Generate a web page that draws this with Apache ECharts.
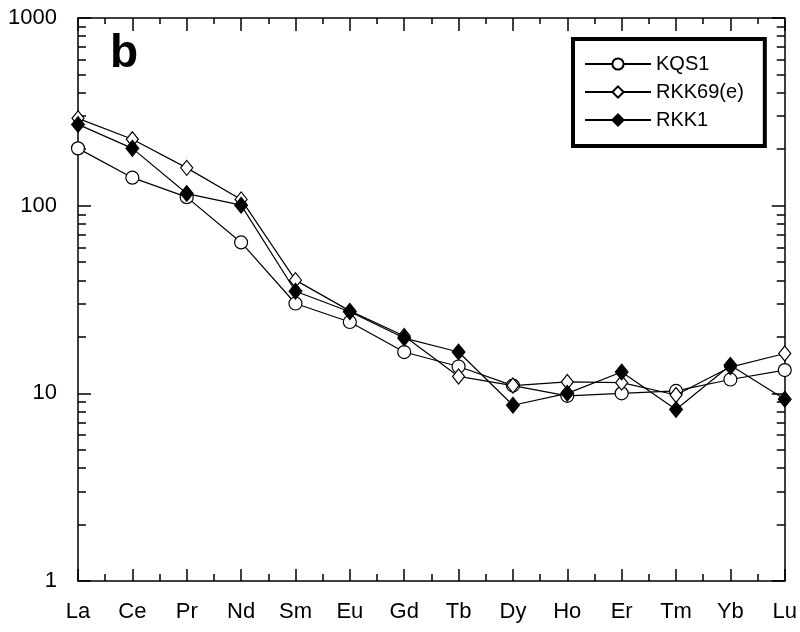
<!DOCTYPE html>
<html>
<head>
<meta charset="utf-8">
<script src="https://cdn.jsdelivr.net/npm/echarts@6/dist/echarts.min.js"></script>
<style>html,body{margin:0;padding:0;background:#fff}#c{width:800px;height:632px}</style>
</head>
<body>
<div id="c"></div>
<script>
var categories = ['La','Ce','Pr','Nd','Sm','Eu','Gd','Tb','Dy','Ho','Er','Tm','Yb','Lu'];
var KQS1 =     [202, 141, 111, 63.7, 30.1, 24.0, 16.6, 13.9, 11.0, 9.7, 10.0, 10.3, 11.85, 13.3];
var RKK69e =   [292, 226, 159, 108, 40.1, 27.5, 20.2, 12.3, 11.0, 11.5, 11.4, 9.8, 13.8, 16.3];
var RKK1 =     [271, 202, 116, 100.6, 35, 27.2, 19.7, 16.6, 8.64, 10.0, 13.0, 8.2, 14.1, 9.3];
var yMajorTicks = [1, 10, 100, 1000];
var yMinorTicks = [2,3,4,5,6,7,8,9,20,30,40,50,60,70,80,90,200,300,400,500,600,700,800,900];

var FONT = 'Liberation Sans';
function pts(arr){ return categories.map(function(c,i){ return [i, arr[i]]; }); }
var axisLine = {show:true, lineStyle:{color:'#000', width:1.5}};
var chart = echarts.init(document.getElementById('c'), null, {renderer:'canvas'});
var yBase = {type:'log', logBase:10, min:1, max:1000, splitLine:{show:false}};
chart.setOption({
  animation:false,
  backgroundColor:'#fff',
  title:{text:'b', left:105, top:26, textStyle:{fontFamily:FONT, fontWeight:'bold', fontSize:46, color:'#000'}},
  grid:{left:78, right:15, top:18, bottom:51},
  legend:{
    data:['KQS1','RKK69(e)','RKK1'],
    orient:'vertical', left:573, top:39,
    itemWidth:66, itemHeight:14, itemGap:8, itemTextGap:8,
    borderColor:'#000', borderWidth:4,
    padding:[15, 21, 16, 11],
    textStyle:{fontFamily:FONT, fontSize:20, color:'#000'}
  },
  xAxis:[
    {type:'value', min:0, max:categories.length-1, interval:1, position:'bottom',
     axisLine:axisLine, splitLine:{show:false},
     axisTick:{show:true, inside:true, length:12, lineStyle:{color:'#000', width:1.5}},
     minorTick:{show:true, splitNumber:2, length:7, lineStyle:{color:'#000', width:1.5}},
     minorSplitLine:{show:false},
     axisLabel:{margin:20, fontFamily:FONT, fontSize:22, color:'#000', formatter:function(v){ return categories[Math.round(v)]; }}},
    {type:'value', min:0, max:categories.length-1, interval:1, position:'top',
     axisLine:axisLine, splitLine:{show:false},
     axisTick:{show:true, inside:true, length:13, lineStyle:{color:'#000', width:1.5}},
     minorTick:{show:true, splitNumber:2, length:6, lineStyle:{color:'#000', width:1.5}},
     axisLabel:{show:false}}
  ],
  yAxis:[
    Object.assign({}, yBase, {position:'left', axisLine:axisLine,
      axisTick:{show:true, inside:true, length:13, customValues:yMajorTicks, lineStyle:{color:'#000', width:1.5}},
      axisLabel:{margin:21, fontFamily:FONT, fontSize:22, color:'#000', customValues:yMajorTicks,
        formatter:function(v){ return String(Math.round(v)); }}}),
    Object.assign({}, yBase, {position:'left', axisLine:{show:false},
      axisTick:{show:true, inside:true, length:8, customValues:yMinorTicks, lineStyle:{color:'#000', width:1.5}},
      axisLabel:{show:false}}),
    Object.assign({}, yBase, {position:'right', axisLine:axisLine,
      axisTick:{show:true, inside:true, length:13, customValues:yMajorTicks, lineStyle:{color:'#000', width:1.5}},
      axisLabel:{show:false}}),
    Object.assign({}, yBase, {position:'right', axisLine:{show:false},
      axisTick:{show:true, inside:true, length:8, customValues:yMinorTicks, lineStyle:{color:'#000', width:1.5}},
      axisLabel:{show:false}})
  ],
  series:[
    {name:'KQS1', type:'line', data:pts(KQS1), symbol:'circle', symbolSize:13, z:2,
     lineStyle:{color:'#000', width:1.2}, itemStyle:{color:'#fff', borderColor:'#000', borderWidth:1.2}},
    {name:'RKK69(e)', type:'line', data:pts(RKK69e), symbol:'diamond', symbolSize:[12,15], z:3,
     lineStyle:{color:'#000', width:1.2}, itemStyle:{color:'#fff', borderColor:'#000', borderWidth:1.2}},
    {name:'RKK1', type:'line', data:pts(RKK1), symbol:'diamond', symbolSize:[13,16], z:4,
     lineStyle:{color:'#000', width:1.2}, itemStyle:{color:'#000', borderColor:'#000', borderWidth:1}}
  ]
});
</script>
</body>
</html>
